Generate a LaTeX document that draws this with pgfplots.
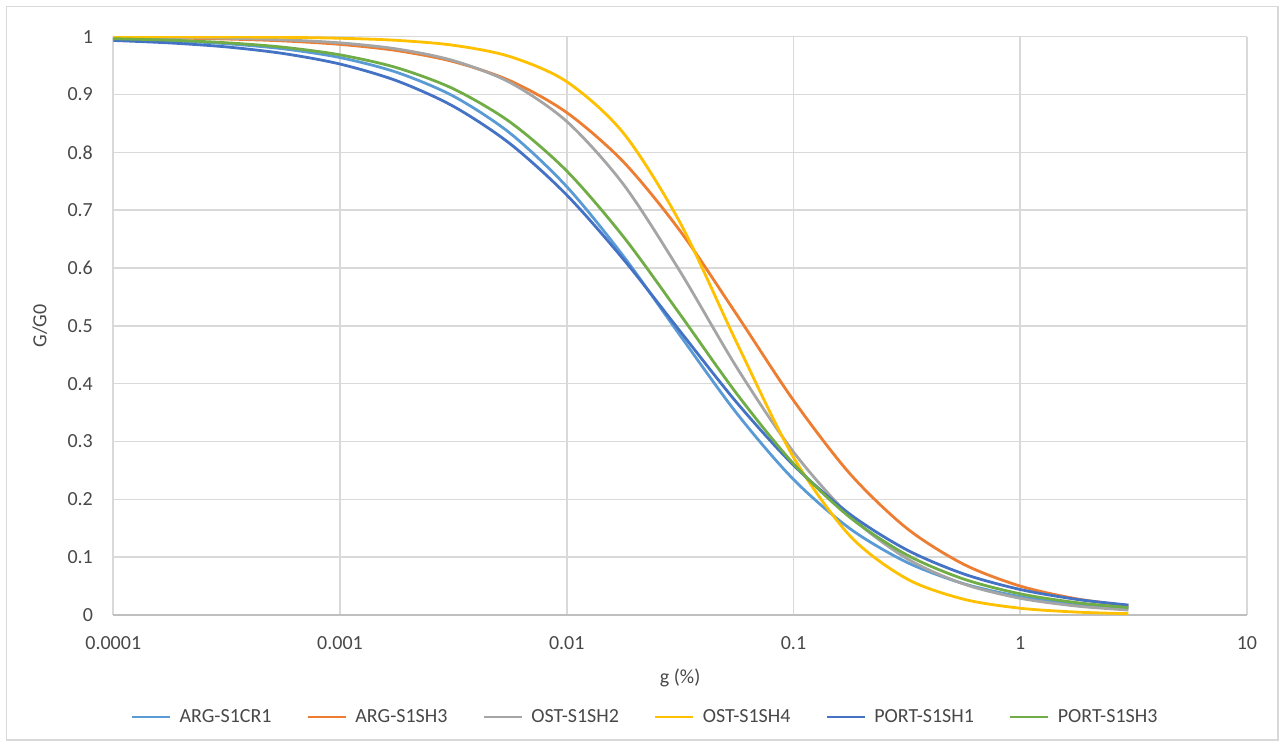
\documentclass[border=0pt]{standalone}
\usepackage{pgfplots}
\pgfplotsset{compat=1.18}
\usepackage{pgfplotstable}
\usepackage{fontspec}
\setmainfont{Carlito}
\definecolor{cA}{HTML}{5B9BD5}
\definecolor{cB}{HTML}{ED7D31}
\definecolor{cC}{HTML}{A5A5A5}
\definecolor{cD}{HTML}{FFC000}
\definecolor{cE}{HTML}{4472C4}
\definecolor{cF}{HTML}{70AD47}
\definecolor{txt}{HTML}{484848}
\definecolor{grd}{HTML}{D9D9D9}
\definecolor{axl}{HTML}{BFBFBF}

\pgfplotstableread{
x          arg1   arg3   ost2   ost4    port1  port3
0.0001     0.9960 0.9988 0.9993 0.9999  0.9935 0.9965
0.0001778  0.9930 0.9978 0.9986 0.9998  0.9892 0.9940
0.0003162  0.9879 0.9960 0.9973 0.9995  0.9823 0.9895
0.0005623  0.9790 0.9927 0.9946 0.9989  0.9709 0.9818
0.001      0.9639 0.9867 0.9893 0.9973  0.9527 0.9686
0.001778   0.9384 0.9760 0.9788 0.9937  0.9238 0.9464
0.003162   0.8972 0.9569 0.9586 0.9852  0.8796 0.9099
0.005623   0.8331 0.9238 0.9207 0.9656  0.8149 0.8524
0.01       0.7407 0.8688 0.8534 0.9222  0.7262 0.7678
0.01778    0.6205 0.7835 0.7447 0.8333  0.6151 0.6541
0.03162    0.4833 0.6641 0.5939 0.6783  0.4906 0.5197
0.05623    0.3486 0.5192 0.4279 0.4706  0.3672 0.3824
0.1        0.2344 0.3711 0.2819 0.2727  0.2591 0.2615
0.1778     0.1491 0.2438 0.1709 0.1365  0.1740 0.1685
0.3162     0.0911 0.1498 0.0976 0.0625  0.1126 0.1039
0.5623     0.0542 0.0878 0.0537 0.0274  0.0711 0.0622
1          0.0318 0.0500 0.0289 0.0117  0.0441 0.0366
1.778      0.0184 0.0279 0.0154 0.0050  0.0270 0.0213
3          0.0112 0.0163 0.0086 0.0023  0.0172 0.0129
}\curves

\begin{document}
\begin{tikzpicture}
\useasboundingbox (0,0) rectangle (640.5pt,372.5pt);
\draw[grd, line width=0.6pt] (3.4pt,2.5pt) rectangle (639pt,369.1pt);
\begin{axis}[
  at={(56.65pt,65pt)}, anchor=south west,
  width=566.85pt, height=289.15pt, scale only axis,
  xmode=log, xmin=0.0001, xmax=10, ymin=0, ymax=1,
  xtick={0.0001,0.001,0.01,0.1,1,10},
  xticklabels={0.0001,0.001,0.01,0.1,1,10},
  ytick={0,0.1,0.2,0.3,0.4,0.5,0.6,0.7,0.8,0.9,1},
  yticklabels={0,0.1,0.2,0.3,0.4,0.5,0.6,0.7,0.8,0.9,1},
  minor xtick={},
  log basis x=10,
  grid=major,
  major grid style={draw=grd, line width=0.8pt},
  axis x line*=bottom, axis y line*=left,
  x axis line style={draw=axl, line width=0.8pt, -},
  y axis line style={draw=none},
  major tick length=0pt,
  tick style={draw=none},
  every tick label/.append style={font=\fontsize{10}{12}\selectfont, text=txt},
  xticklabel style={anchor=north, inner sep=0pt, yshift=-10.5pt},
  yticklabel style={anchor=east, inner sep=0pt, xshift=-10pt},
  xlabel={g (\%)}, ylabel={G/G0},
  label style={font=\fontsize{10}{12}\selectfont, text=txt},
  xlabel style={at={(axis description cs:0.5,-0.1089)}, anchor=center},
  ylabel style={at={(axis description cs:-0.0647,0.5)}, anchor=center},
  legend columns=6,
  legend cell align=left,
  legend style={at={(axis description cs:0.47,-0.1764)}, anchor=center,
    draw=none, fill=none, inner sep=0pt,
    font=\fontsize{10}{12}\selectfont, text=txt,
    /tikz/every even column/.append style={column sep=15.5pt},
    /tikz/every odd column/.append style={column sep=2pt}},
  legend image code/.code={\draw[#1, line width=1.4pt] (0pt,0pt) -- (19pt,0pt);},
  every axis plot/.append style={line width=1.4pt, no markers, smooth},
]
\addplot[cA] table[x=x, y=arg1] {\curves};
\addlegendentry{ARG-S1CR1}
\addplot[cB] table[x=x, y=arg3] {\curves};
\addlegendentry{ARG-S1SH3}
\addplot[cC] table[x=x, y=ost2] {\curves};
\addlegendentry{OST-S1SH2}
\addplot[cD] table[x=x, y=ost4] {\curves};
\addlegendentry{OST-S1SH4}
\addplot[cE] table[x=x, y=port1] {\curves};
\addlegendentry{PORT-S1SH1}
\addplot[cF] table[x=x, y=port3] {\curves};
\addlegendentry{PORT-S1SH3}
\end{axis}
\end{tikzpicture}
\end{document}
